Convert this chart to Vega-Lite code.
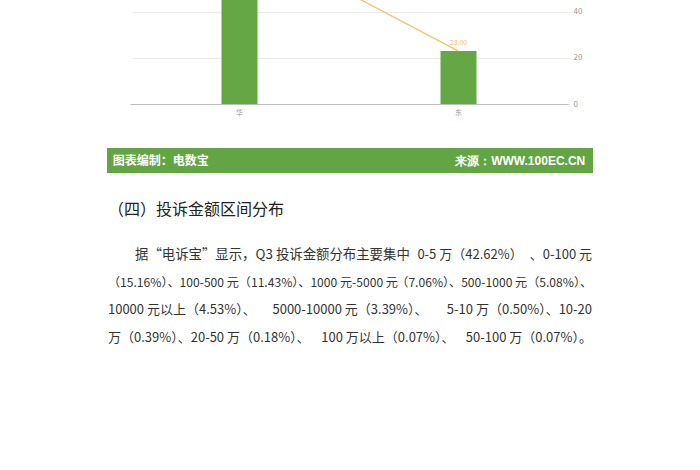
{
  "$schema": "https://vega.github.io/schema/vega-lite/v6.json",
  "width": 700,
  "height": 470,
  "padding": 0,
  "autosize": {"type": "none"},
  "background": "white",
  "config": {"view": {"stroke": null}, "font": "Noto Sans CJK SC"},
  "datasets": {
    "chart": [
      {"region": "华", "bar": 73, "line": 73},
      {"region": "东", "bar": 23, "line": 23}
    ],
    "banner": [
      {"left": "图表编制：电数宝", "right": "来源：WWW.100EC.CN"}
    ],
    "heading": [{"text": "（四）投诉金额区间分布"}],
    "para": [
      {"line": 1, "part": "L", "text": "据“电诉宝”显示，Q3 投诉金额分布主要集中"},
      {"line": 1, "part": "M", "text": "0-5 万（42.62%）"},
      {"line": 1, "part": "R", "text": "、0-100 元"},
      {"line": 2, "part": "L", "text": "（15.16%）、100-500 元（11.43%）、1000 元-5000 元"},
      {"line": 2, "part": "R", "text": "（7.06%）、500-1000 元（5.08%）、"},
      {"line": 3, "part": "L", "text": "10000 元以上（4.53%）、"},
      {"line": 3, "part": "M", "text": "5000-10000 元（3.39%）、"},
      {"line": 3, "part": "R", "text": "5-10 万（0.50%）、10-20"},
      {"line": 4, "part": "L", "text": "万（0.39%）、20-50 万（0.18%）、"},
      {"line": 4, "part": "M", "text": "100 万以上（0.07%）、"},
      {"line": 4, "part": "R", "text": "50-100 万（0.07%）。"}
    ]
  },
  "layer": [
    {
      "data": {"name": "chart"},
      "encoding": {
        "x": {
          "field": "region", "type": "nominal", "sort": null,
          "scale": {"range": [130, 568], "paddingInner": 0, "paddingOuter": 0},
          "axis": {"orient": "bottom", "offset": -366, "domainColor": "#bdbdbd", "ticks": false, "labelFontSize": 7, "labelColor": "#999999", "labelAngle": 0, "labelPadding": 4, "title": null, "grid": false}
        }
      },
      "layer": [
        {
          "mark": {"type": "bar", "color": "#65a745", "size": 36, "clip": true},
          "encoding": {
            "y": {
              "field": "bar", "type": "quantitative",
              "scale": {"domain": [0, 45.2], "range": [104, 0], "nice": false, "zero": true},
              "axis": {"orient": "right", "offset": -132, "values": [0, 20, 40], "grid": true, "gridColor": "#ebebeb", "domain": false, "ticks": false, "labelPadding": 5, "labelFontSize": 8, "labelColor": "#999999", "title": null}
            }
          }
        },
        {
          "mark": {"type": "line", "color": "#f2c46c", "strokeWidth": 1.3, "clip": true},
          "encoding": {"y": {"field": "line", "type": "quantitative"}}
        },
        {
          "transform": [{"filter": "datum.line < 45"}],
          "mark": {"type": "text", "color": "#f0c060", "fontSize": 7, "dy": -8},
          "encoding": {
            "y": {"field": "line", "type": "quantitative"},
            "text": {"field": "line", "type": "quantitative", "format": ".2f"}
          }
        }
      ]
    },
    {
      "encoding": {},
      "layer": [
        {
          "data": {"name": "banner"},
          "mark": {"type": "rect", "color": "#63a444"},
          "encoding": {
            "x": {"datum": 0, "type": "quantitative", "scale": {"domain": [0, 1], "range": [107, 593]}, "axis": null},
            "x2": {"datum": 1},
            "y": {"datum": -2.867, "type": "quantitative", "scale": {"domain": [1, 4], "range": [255, 338]}, "axis": null},
            "y2": {"datum": -1.963}
          }
        },
        {
          "data": {"name": "banner"},
          "mark": {"type": "text", "align": "left", "baseline": "middle", "color": "white", "fontWeight": "bold", "fontSize": 12},
          "encoding": {
            "x": {"datum": 0.012, "type": "quantitative"},
            "y": {"datum": -2.397, "type": "quantitative"},
            "text": {"field": "left"}
          }
        },
        {
          "data": {"name": "banner"},
          "mark": {"type": "text", "align": "right", "baseline": "middle", "color": "white", "fontWeight": "bold", "fontSize": 12, "font": "Liberation Sans"},
          "encoding": {
            "x": {"datum": 0.984, "type": "quantitative"},
            "y": {"datum": -2.397, "type": "quantitative"},
            "text": {"field": "right"}
          }
        },
        {
          "data": {"name": "heading"},
          "mark": {"type": "text", "align": "left", "baseline": "middle", "color": "#222222", "fontSize": 16},
          "encoding": {
            "x": {"datum": 0.002, "type": "quantitative"},
            "y": {"datum": -0.626, "type": "quantitative"},
            "text": {"field": "text"}
          }
        },
        {
          "data": {"name": "para"},
          "transform": [{"filter": "datum.part == 'L' && datum.line == 1"}],
          "mark": {"type": "text", "align": "left", "baseline": "middle", "color": "#333333", "fontSize": 13.4},
          "encoding": {"x": {"datum": 0.0576, "type": "quantitative"}, "y": {"field": "line", "type": "quantitative"}, "text": {"field": "text"}}
        },
        {
          "data": {"name": "para"},
          "transform": [{"filter": "datum.part == 'M' && datum.line == 1"}],
          "mark": {"type": "text", "align": "center", "baseline": "middle", "color": "#333333", "fontSize": 13},
          "encoding": {"x": {"datum": 0.747, "type": "quantitative"}, "y": {"field": "line", "type": "quantitative"}, "text": {"field": "text"}}
        },
        {
          "data": {"name": "para"},
          "transform": [{"filter": "datum.line == 2 && datum.part == 'L'"}],
          "mark": {"type": "text", "align": "left", "baseline": "middle", "color": "#333333", "fontSize": 12.1},
          "encoding": {"x": {"datum": 0.002, "type": "quantitative"}, "y": {"field": "line", "type": "quantitative"}, "text": {"field": "text"}}
        },
        {
          "data": {"name": "para"},
          "transform": [{"filter": "datum.line == 2 && datum.part == 'R'"}],
          "mark": {"type": "text", "align": "right", "baseline": "middle", "color": "#333333", "fontSize": 12.1},
          "encoding": {"x": {"datum": 0.998, "type": "quantitative"}, "y": {"field": "line", "type": "quantitative"}, "text": {"field": "text"}}
        },
        {
          "data": {"name": "para"},
          "transform": [{"filter": "datum.part == 'L' && datum.line > 2"}],
          "mark": {"type": "text", "align": "left", "baseline": "middle", "color": "#333333", "fontSize": 13},
          "encoding": {"x": {"datum": 0.002, "type": "quantitative"}, "y": {"field": "line", "type": "quantitative"}, "text": {"field": "text"}}
        },
        {
          "data": {"name": "para"},
          "transform": [{"filter": "datum.part == 'M' && datum.line == 3"}],
          "mark": {"type": "text", "align": "center", "baseline": "middle", "color": "#333333", "fontSize": 13},
          "encoding": {"x": {"datum": 0.5, "type": "quantitative"}, "y": {"field": "line", "type": "quantitative"}, "text": {"field": "text"}}
        },
        {
          "data": {"name": "para"},
          "transform": [{"filter": "datum.part == 'M' && datum.line == 4"}],
          "mark": {"type": "text", "align": "center", "baseline": "middle", "color": "#333333", "fontSize": 13},
          "encoding": {"x": {"datum": 0.578, "type": "quantitative"}, "y": {"field": "line", "type": "quantitative"}, "text": {"field": "text"}}
        },
        {
          "data": {"name": "para"},
          "transform": [{"filter": "datum.part == 'R' && datum.line != 2"}],
          "mark": {"type": "text", "align": "right", "baseline": "middle", "color": "#333333", "fontSize": 13},
          "encoding": {"x": {"datum": 0.998, "type": "quantitative"}, "y": {"field": "line", "type": "quantitative"}, "text": {"field": "text"}}
        }
      ]
    }
  ],
  "resolve": {"scale": {"x": "independent", "y": "independent"}, "axis": {"x": "independent", "y": "independent"}}
}
